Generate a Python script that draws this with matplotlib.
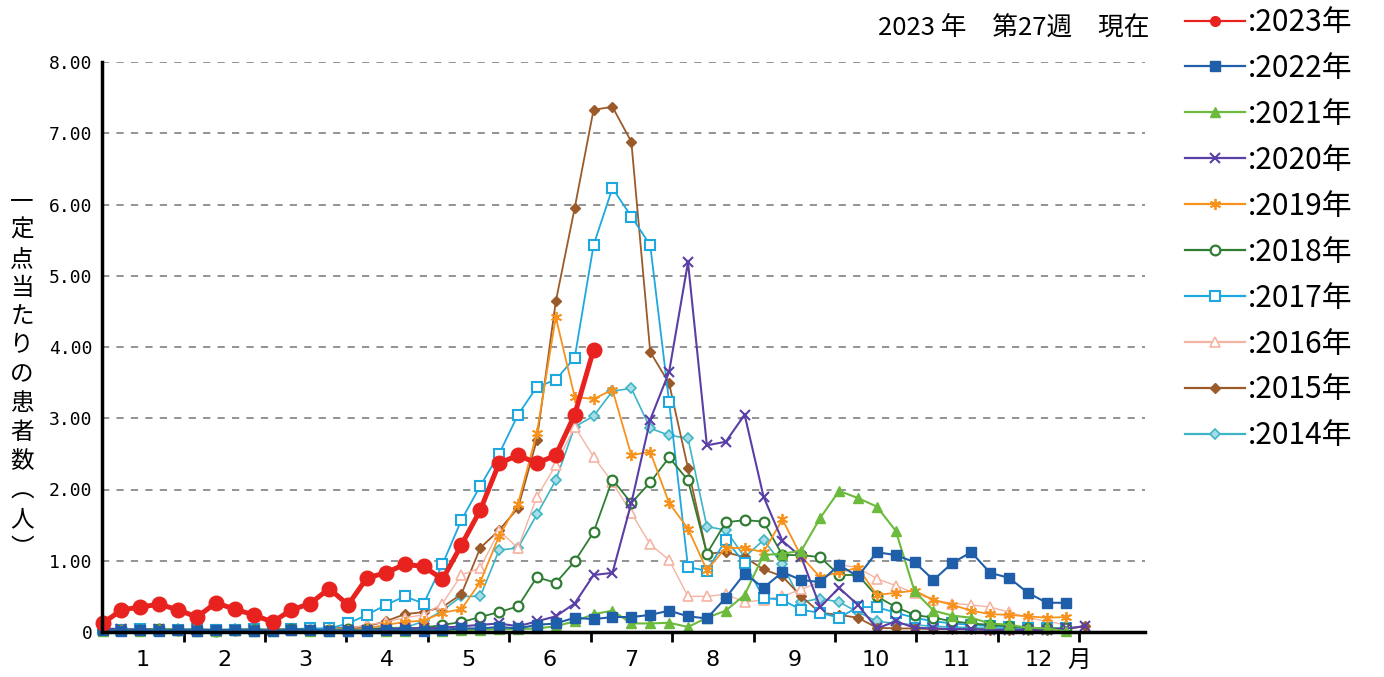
import matplotlib
matplotlib.use('Agg')
import matplotlib.pyplot as plt
from matplotlib.lines import Line2D

plt.rcParams['font.family'] = ['Noto Sans CJK JP', 'DejaVu Sans']

# weekly values (patients per sentinel site), week 1..N
y2023 = [0.12, 0.31, 0.35, 0.39, 0.31, 0.21, 0.41, 0.32, 0.24, 0.14, 0.31, 0.40, 0.61, 0.38,
         0.76, 0.83, 0.95, 0.92, 0.74, 1.22, 1.71, 2.37, 2.48, 2.37, 2.48, 3.05, 3.96]
y2022 = [0.03, 0.02, 0.03, 0.02, 0.03, 0.02, 0.03, 0.03, 0.02, 0.02, 0.03, 0.03, 0.02, 0.02,
         0.02, 0.03, 0.03, 0.02, 0.03, 0.05, 0.05, 0.07, 0.05, 0.10, 0.12, 0.20, 0.18, 0.21,
         0.21, 0.24, 0.30, 0.22, 0.19, 0.48, 0.82, 0.62, 0.84, 0.73, 0.70, 0.94, 0.78, 1.12,
         1.08, 0.98, 0.73, 0.97, 1.12, 0.83, 0.76, 0.55, 0.41, 0.41]
y2021 = [0.02, 0.03, 0.02, 0.04, 0.03, 0.02, 0.02, 0.03, 0.02, 0.02, 0.03, 0.02, 0.02, 0.02,
         0.03, 0.02, 0.02, 0.03, 0.02, 0.03, 0.03, 0.04, 0.04, 0.05, 0.08, 0.15, 0.25, 0.30,
         0.12, 0.12, 0.13, 0.07, 0.20, 0.30, 0.52, 1.08, 1.10, 1.14, 1.60, 1.98, 1.88, 1.76,
         1.42, 0.57, 0.30, 0.23, 0.20, 0.12, 0.10, 0.06, 0.05, 0.01]
y2020 = [0.05, 0.04, 0.03, 0.04, 0.03, 0.03, 0.02, 0.03, 0.03, 0.02, 0.03, 0.03, 0.02, 0.03,
         0.03, 0.04, 0.05, 0.05, 0.06, 0.08, 0.10, 0.12, 0.08, 0.15, 0.22, 0.40, 0.80, 0.83,
         1.81, 2.98, 3.65, 5.19, 2.62, 2.67, 3.05, 1.90, 1.28, 1.05, 0.35, 0.62, 0.38, 0.05,
         0.15, 0.06, 0.05, 0.04, 0.04, 0.03, 0.03, 0.03, 0.03, 0.05, 0.08]
y2019 = [0.03, 0.03, 0.02, 0.03, 0.03, 0.02, 0.03, 0.03, 0.02, 0.03, 0.03, 0.02, 0.03, 0.03,
         0.05, 0.10, 0.14, 0.16, 0.27, 0.32, 0.70, 1.35, 1.80, 2.80, 4.42, 3.30, 3.27, 3.40,
         2.48, 2.53, 1.81, 1.45, 0.87, 1.18, 1.18, 1.12, 1.58, 1.06, 0.77, 0.84, 0.90, 0.52,
         0.55, 0.58, 0.45, 0.38, 0.30, 0.25, 0.24, 0.22, 0.20, 0.21]
y2018 = [0.04, 0.03, 0.03, 0.04, 0.03, 0.03, 0.02, 0.03, 0.03, 0.03, 0.04, 0.03, 0.03, 0.04,
         0.04, 0.05, 0.05, 0.06, 0.10, 0.14, 0.21, 0.28, 0.36, 0.77, 0.69, 0.99, 1.40, 2.14,
         1.81, 2.10, 2.45, 2.13, 1.10, 1.54, 1.57, 1.55, 1.08, 1.08, 1.05, 0.80, 0.80, 0.50,
         0.35, 0.24, 0.20, 0.15, 0.12, 0.10, 0.08, 0.06, 0.05, 0.05]
y2017 = [0.04, 0.03, 0.04, 0.03, 0.03, 0.04, 0.03, 0.03, 0.04, 0.03, 0.04, 0.05, 0.05, 0.12,
         0.24, 0.38, 0.50, 0.40, 0.95, 1.57, 2.05, 2.50, 3.05, 3.44, 3.54, 3.85, 5.43, 6.23,
         5.83, 5.43, 3.23, 0.91, 0.86, 1.29, 0.97, 0.48, 0.45, 0.31, 0.27, 0.20, 0.35, 0.35,
         0.27, 0.20, 0.15, 0.12, 0.10, 0.08, 0.07, 0.06, 0.05, 0.05]
y2016 = [0.03, 0.04, 0.03, 0.04, 0.03, 0.03, 0.04, 0.03, 0.03, 0.04, 0.04, 0.05, 0.04, 0.05,
         0.10, 0.14, 0.20, 0.24, 0.40, 0.80, 0.90, 1.42, 1.18, 1.90, 2.34, 2.88, 2.46, 2.10,
         1.67, 1.23, 1.01, 0.50, 0.50, 0.53, 0.42, 0.45, 0.50, 0.60, 0.70, 0.95, 0.90, 0.75,
         0.65, 0.55, 0.45, 0.40, 0.38, 0.35, 0.28, 0.20, 0.15, 0.10]
y2015 = [0.03, 0.03, 0.04, 0.03, 0.03, 0.04, 0.03, 0.03, 0.04, 0.03, 0.03, 0.04, 0.05, 0.06,
         0.08, 0.15, 0.25, 0.28, 0.35, 0.53, 1.18, 1.43, 1.74, 2.70, 4.64, 5.95, 7.33, 7.37,
         6.88, 3.93, 3.49, 2.30, 1.10, 1.12, 1.05, 0.88, 0.78, 0.50, 0.27, 0.24, 0.20, 0.06,
         0.05, 0.05, 0.04, 0.04, 0.04, 0.03, 0.03, 0.03, 0.03, 0.04, 0.08]
y2014 = [0.04, 0.03, 0.04, 0.03, 0.04, 0.03, 0.03, 0.04, 0.03, 0.04, 0.04, 0.03, 0.04, 0.05,
         0.05, 0.06, 0.06, 0.15, 0.30, 0.50, 0.50, 1.15, 1.18, 1.65, 2.13, 2.88, 3.03, 3.38,
         3.42, 2.86, 2.76, 2.72, 1.48, 1.43, 1.05, 1.29, 0.95, 0.42, 0.47, 0.42, 0.28, 0.15,
         0.12, 0.10, 0.08, 0.07, 0.06, 0.05, 0.05, 0.05, 0.05, 0.05]

years = ['2014', '2015', '2016', '2017', '2018', '2019', '2020', '2021', '2022', '2023']
series = [y2014, y2015, y2016, y2017, y2018, y2019, y2020, y2021, y2022, y2023]
months = [str(m) for m in range(1, 13)]
y_ticks = [0, 1, 2, 3, 4, 5, 6, 7, 8]
y_ticklabels = ['0', '1.00', '2.00', '3.00', '4.00', '5.00', '6.00', '7.00', '8.00']

styles = {
    '2023': dict(color='#e8231f', marker='o', ms=10.5, lw=3.6, mfc='#e8231f'),
    '2022': dict(color='#1f5ea8', marker='s', ms=6.5, lw=1.5, mfc='#1f5ea8'),
    '2021': dict(color='#6cbb3c', marker='^', ms=7, lw=1.5, mfc='#6cbb3c'),
    '2020': dict(color='#5a3fa6', marker='x', ms=7, lw=1.5, mew=1.5),
    '2019': dict(color='#f7921c', marker=(6, 2, 0), ms=8, lw=1.3, mew=1.3),
    '2018': dict(color='#2e7d32', marker='o', ms=7, lw=1.3, mfc='white', mew=1.6),
    '2017': dict(color='#1ea8e0', marker='s', ms=6.5, lw=1.3, mfc='white', mew=1.5),
    '2016': dict(color='#f5b3a3', marker='^', ms=6.5, lw=1.0, mfc='white', mew=1.2),
    '2015': dict(color='#9b5a2a', marker='D', ms=5, lw=1.3, mfc='#9b5a2a'),
    '2014': dict(color='#3db5c6', marker='D', ms=5, lw=1.2, mfc='#a9dde6', mew=1.2),
}

fig = plt.figure(figsize=(13.84, 6.77), dpi=100)
ax = fig.add_axes([102 / 1384, 1 - 632 / 677, (1145 - 102) / 1384, (632 - 62) / 677])

for yr, vals in zip(years, series):
    weeks = list(range(1, len(vals) + 1))
    ax.plot(weeks, vals, zorder=3, clip_on=False, **styles[yr])

ax.set_xlim(0.97, 56.2)
ax.set_ylim(0, 8)

# month boundaries and month labels
wpm = 4.312
bounds = [0.974 + wpm * k for k in range(1, 13)]
mids = [0.974 + wpm * (k + 0.5) for k in range(12)]
ax.set_xticks(bounds)
ax.set_xticklabels([''] * 12)
ax.tick_params(axis='x', which='major', direction='out', length=7, width=2, color='black')
ax.set_xticks(mids, minor=True)
ax.set_xticklabels(months, minor=True, fontsize=16, family=['DejaVu Sans'])
ax.tick_params(axis='x', which='minor', length=0, pad=13)
ax.text(bounds[-1], -0.05, '月', transform=ax.get_xaxis_transform(), ha='center', va='center',
        fontsize=17)

ax.set_yticks(y_ticks)
ax.set_yticklabels(y_ticklabels, fontsize=13, family=['DejaVu Sans Mono'])
ax.tick_params(axis='y', length=0, pad=7)

for v in y_ticks[1:]:
    ax.axhline(v, color='#8a8a8a', lw=1.3, ls=(0, (4, 4)), zorder=1)

for s in ['top', 'right']:
    ax.spines[s].set_visible(False)
ax.spines['left'].set_linewidth(2.5)
ax.spines['bottom'].set_linewidth(2.5)
ax.spines['left'].set_zorder(4)
ax.spines['bottom'].set_zorder(4)

# vertical y label, upright characters
fig.text(22 / 1384, 1 - 375 / 677, '\n'.join('一定点当たりの患者数︵人︶'), ha='center', va='center',
         fontsize=17, linespacing=1.33)

fig.text(1150 / 1384, 1 - 28 / 677, '2023 年\u3000第27週\u3000現在', ha='right', va='center',
         fontsize=18.5)

handles = []
for yr in years[::-1]:
    st = dict(styles[yr])
    st['lw'] = 1.6
    if yr == '2023':
        st['ms'] = 7
    handles.append(Line2D([0], [0], **st))
labels = [':' + yr + '年' for yr in years[::-1]]
fig.legend(handles, labels, loc='upper left', bbox_to_anchor=(1185 / 1384, 1 - 7 / 677),
           frameon=False, fontsize=21.5, handlelength=2.0, handletextpad=0.1,
           labelspacing=0.5, borderaxespad=0, borderpad=0)

plt.savefig('out.png', dpi=100)
